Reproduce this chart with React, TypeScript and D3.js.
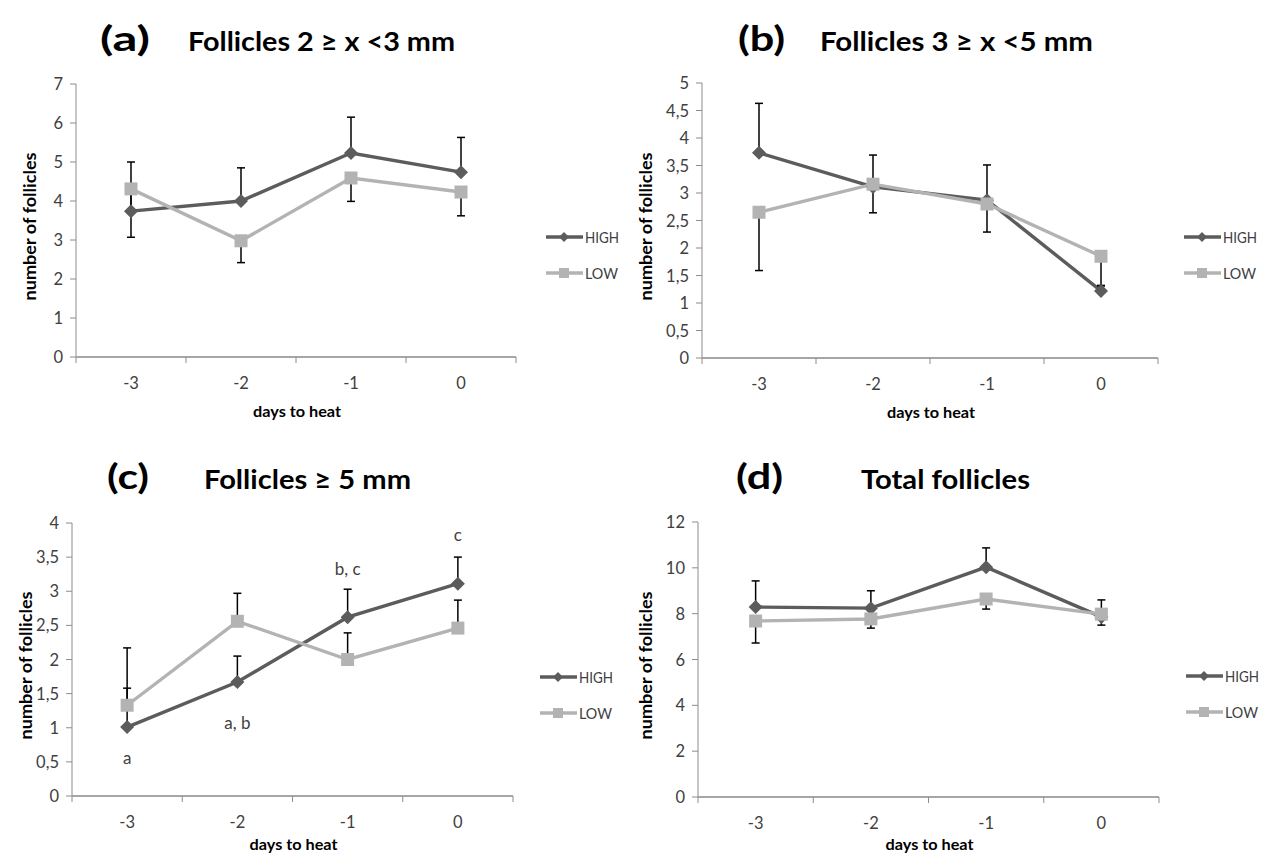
import React from "react";
import * as d3 from "d3";

// days to heat (x categories)
const days = ["-3", "-2", "-1", "0"];

// (a) Follicles 2 ≥ x <3 mm
const highA = [3.74, 4.0, 5.23, 4.74];
const highErrA = [1.26, 0.85, 0.92, 0.89];
const lowA = [4.31, 2.98, 4.59, 4.23];
const lowErrA = [1.24, 0.56, 0.6, 0.61];
const ticksA = [0, 1, 2, 3, 4, 5, 6, 7];

// (b) Follicles 3 ≥ x <5 mm
const highB = [3.73, 3.11, 2.87, 1.22];
const highErrB = [0.9, 0.58, 0.64, 0.1];
const lowB = [2.65, 3.16, 2.8, 1.85];
const lowErrB = [1.06, 0.52, 0.51, 0.54];
const ticksB = [0, 0.5, 1, 1.5, 2, 2.5, 3, 3.5, 4, 4.5, 5];

// (c) Follicles ≥ 5 mm
const highC = [1.01, 1.67, 2.62, 3.11];
const highErrC = [0.57, 0.38, 0.41, 0.39];
const lowC = [1.33, 2.56, 2.0, 2.46];
const lowErrC = [0.84, 0.41, 0.39, 0.41];
const ticksC = [0, 0.5, 1, 1.5, 2, 2.5, 3, 3.5, 4];
const notesC = [
  { day: "-3", value: 0.56, text: "a" },
  { day: "-2", value: 1.07, text: "a, b" },
  { day: "-1", value: 3.33, text: "b, c" },
  { day: "0", value: 3.82, text: "c" },
];

// (d) Total follicles
const highD = [8.29, 8.24, 10.03, 7.86];
const highErrD = [1.14, 0.76, 0.84, 0.74];
const lowD = [7.68, 7.77, 8.64, 7.98];
const lowErrD = [0.96, 0.4, 0.44, 0.48];
const ticksD = [0, 2, 4, 6, 8, 10, 12];

const seriesNames = ["HIGH", "LOW"];

const FONT = "Lato, 'Open Sans', 'Liberation Sans', sans-serif";
const HIGH_COLOR = "#5c5c5c";
const LOW_COLOR = "#b3b3b3";
const TICK_COLOR = "#404040";

const fmt = (v) => String(v).replace(".", ",");

const Diamond = ({ x, y, r, fill }) => (
  <path d={`M${x},${y - r}L${x + r},${y}L${x},${y + r}L${x - r},${y}Z`} fill={fill} />
);
const Square = ({ x, y, r, fill }) => (
  <rect x={x - r} y={y - r} width={2 * r} height={2 * r} fill={fill} />
);

const Panel = ({ p }) => {
  const x = d3.scaleBand().domain(days).range([p.x0, p.x1]).padding(0);
  const y = d3.scaleLinear().domain([0, p.max]).range([p.yBottom, p.yTop]);
  const cx = (d) => x(d) + x.bandwidth() / 2;
  const line = d3
    .line()
    .x((d) => cx(d[0]))
    .y((d) => y(d[1]));
  const highPts = days.map((d, i) => [d, p.high[i]]);
  const lowPts = days.map((d, i) => [d, p.low[i]]);

  const errBars = [];
  days.forEach((d, i) => {
    const hEnd = p.high[i] + p.highErr[i];
    const lEnd = p.lowUp ? p.low[i] + p.lowErr[i] : p.low[i] - p.lowErr[i];
    errBars.push([d, p.high[i], hEnd]);
    errBars.push([d, p.low[i], lEnd]);
  });

  const boundaries = [...days.map((d) => x(d)), p.x1];
  const legendY = [p.legendY, p.legendY + 36];
  const legendW = [34, 33];

  return (
    <g>
      {/* titles */}
      <text
        x={p.labelX}
        y={p.titleY}
        fontFamily={FONT}
        fontWeight="bold"
        fontSize={34}
        fill="#000"
        textLength={p.labelW}
        lengthAdjust="spacingAndGlyphs"
      >
        {p.label}
      </text>
      <text
        x={p.titleX}
        y={p.titleY}
        fontFamily={FONT}
        fontWeight="bold"
        fontSize={27}
        fill="#000"
        textLength={p.titleW}
        lengthAdjust="spacingAndGlyphs"
      >
        {p.title}
      </text>

      {/* y axis */}
      <line x1={p.x0} x2={p.x0} y1={p.yTop} y2={p.yBottom} stroke="#8c8c8c" strokeWidth={1} />
      {p.ticks.map((t) => (
        <g key={t}>
          <line x1={p.x0 - 6} x2={p.x0} y1={y(t)} y2={y(t)} stroke="#8c8c8c" strokeWidth={1} />
          <text
            x={p.x0 - 13}
            y={y(t) + 6}
            textAnchor="end"
            fontFamily={FONT}
            fontSize={16.5}
            fill={TICK_COLOR}
          >
            {fmt(t)}
          </text>
        </g>
      ))}
      <text
        transform={`translate(${p.yLabelX},${(p.yTop + p.yBottom) / 2 + 6}) rotate(-90)`}
        textAnchor="middle"
        fontFamily={FONT}
        fontWeight="bold"
        fontSize={16.5}
        fill="#000"
        textLength={148}
        lengthAdjust="spacingAndGlyphs"
      >
        number of follicles
      </text>

      {/* x axis */}
      <line x1={p.x0} x2={p.x1} y1={p.yBottom} y2={p.yBottom} stroke="#a6a6a6" strokeWidth={1.8} />
      {boundaries.map((b, i) => (
        <line key={i} x1={b} x2={b} y1={p.yBottom} y2={p.yBottom + 6} stroke="#8c8c8c" strokeWidth={1} />
      ))}
      {days.map((d) => (
        <text
          key={d}
          x={cx(d)}
          y={p.yBottom + 32}
          textAnchor="middle"
          fontFamily={FONT}
          fontSize={16.5}
          fill={TICK_COLOR}
        >
          {d}
        </text>
      ))}
      <text
        x={(p.x0 + p.x1) / 2 + 1}
        y={Math.min(p.yBottom + 60, 850)}
        textAnchor="middle"
        fontFamily={FONT}
        fontWeight="bold"
        fontSize={15}
        fill="#000"
        textLength={88}
        lengthAdjust="spacingAndGlyphs"
      >
        days to heat
      </text>

      {/* lines */}
      <path d={line(highPts)} fill="none" stroke={HIGH_COLOR} strokeWidth={3.4} />
      <path d={line(lowPts)} fill="none" stroke={LOW_COLOR} strokeWidth={3.4} />

      {/* error bars */}
      {errBars.map(([d, v0, v1], i) => (
        <g key={i} stroke="#000" strokeWidth={1.5}>
          <line x1={cx(d)} x2={cx(d)} y1={y(v0)} y2={y(v1)} />
          <line x1={cx(d) - 4} x2={cx(d) + 4} y1={y(v1)} y2={y(v1)} />
        </g>
      ))}

      {/* markers */}
      {highPts.map(([d, v]) => (
        <Diamond key={d} x={cx(d)} y={y(v)} r={7} fill={HIGH_COLOR} />
      ))}
      {lowPts.map(([d, v]) => (
        <Square key={d} x={cx(d)} y={y(v)} r={6.5} fill={LOW_COLOR} />
      ))}

      {/* significance letters */}
      {(p.notes || []).map((n) => (
        <text
          key={n.text}
          x={cx(n.day)}
          y={y(n.value) + 6}
          textAnchor="middle"
          fontFamily={FONT}
          fontSize={17}
          fill={TICK_COLOR}
        >
          {n.text}
        </text>
      ))}

      {/* legend */}
      {seriesNames.map((s, i) => (
        <g key={s}>
          <line
            x1={p.legendX}
            x2={p.legendX + 37}
            y1={legendY[i]}
            y2={legendY[i]}
            stroke={i === 0 ? HIGH_COLOR : LOW_COLOR}
            strokeWidth={3.4}
          />
          {i === 0 ? (
            <Diamond x={p.legendX + 18} y={legendY[i]} r={5} fill={HIGH_COLOR} />
          ) : (
            <Square x={p.legendX + 18} y={legendY[i]} r={5} fill={LOW_COLOR} />
          )}
          <text
            x={p.legendX + 39}
            y={legendY[i] + 6}
            fontFamily={FONT}
            fontSize={16}
            fill={TICK_COLOR}
            textLength={legendW[i]}
            lengthAdjust="spacingAndGlyphs"
          >
            {s}
          </text>
        </g>
      ))}
    </g>
  );
};

const panels = [
  {
    label: "(a)", labelX: 100, labelW: 50, title: "Follicles 2 ≥ x <3 mm", titleX: 188, titleW: 267, titleY: 51,
    x0: 76, x1: 516, yTop: 84, yBottom: 357, max: 7, ticks: ticksA,
    high: highA, highErr: highErrA, low: lowA, lowErr: lowErrA, lowUp: false,
    legendX: 546, legendY: 237, yLabelX: 36,
  },
  {
    label: "(b)", labelX: 738, labelW: 47, title: "Follicles 3 ≥ x <5 mm", titleX: 820, titleW: 273, titleY: 51,
    x0: 702, x1: 1158, yTop: 83, yBottom: 358, max: 5, ticks: ticksB,
    high: highB, highErr: highErrB, low: lowB, lowErr: lowErrB, lowUp: false,
    legendX: 1184, legendY: 237, yLabelX: 652,
  },
  {
    label: "(c)", labelX: 107, labelW: 42, title: "Follicles ≥ 5 mm", titleX: 204, titleW: 207, titleY: 489,
    x0: 72, x1: 513, yTop: 523, yBottom: 796, max: 4, ticks: ticksC,
    high: highC, highErr: highErrC, low: lowC, lowErr: lowErrC, lowUp: true,
    legendX: 540, legendY: 677, yLabelX: 32, notes: notesC,
  },
  {
    label: "(d)", labelX: 736, labelW: 47, title: "Total follicles", titleX: 861, titleW: 169, titleY: 489,
    x0: 698, x1: 1159, yTop: 522, yBottom: 797, max: 12, ticks: ticksD,
    high: highD, highErr: highErrD, low: lowD, lowErr: lowErrD, lowUp: false,
    legendX: 1186, legendY: 676, yLabelX: 652,
  },
];

export default function App() {
  return (
    <div style={{ position: "absolute", left: 0, top: 0 }}>
      <svg width={1266} height={858} style={{ display: "block", background: "#fff" }}>
        {panels.map((p) => (
          <Panel key={p.label} p={p} />
        ))}
      </svg>
    </div>
  );
}
